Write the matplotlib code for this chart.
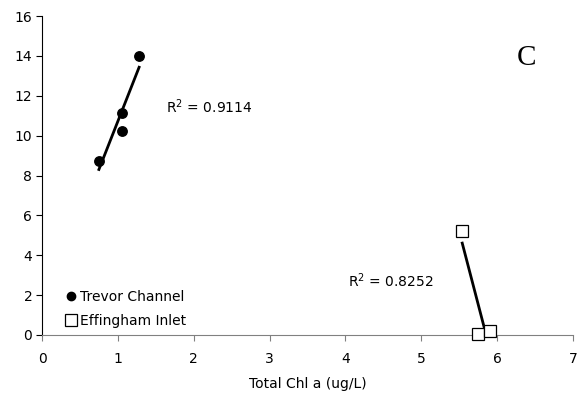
import numpy as np
import matplotlib
matplotlib.use("Agg")
import matplotlib.pyplot as plt
from matplotlib.lines import Line2D

# Data
trevor_x = [0.75, 1.05, 1.05, 1.28]
trevor_y = [8.74, 11.15, 10.25, 14.0]
effing_x = [5.54, 5.75, 5.90]
effing_y = [5.23, 0.05, 0.22]
trevor_r2 = "0.9114"
effing_r2 = "0.8252"
xticks = [0, 1, 2, 3, 4, 5, 6, 7]
yticks = [0, 2, 4, 6, 8, 10, 12, 14, 16]
xlabel = "Total Chl a (ug/L)"
panel = "C"

plt.rcParams['font.family'] = ['DejaVu Sans']
fig = plt.figure(figsize=(5.78, 4.0), dpi=100)
ax = fig.add_axes([0.0727, 0.1625, 0.9186, 0.7975])

# trendlines
for xs, ys in [(trevor_x, trevor_y), (effing_x, effing_y)]:
    m, b = np.polyfit(xs, ys, 1)
    xx = np.array([min(xs), max(xs)])
    ax.plot(xx, m * xx + b, color='black', lw=2.0, zorder=2)

ax.plot(trevor_x, trevor_y, linestyle='none', marker='o', ms=6.8,
        mfc='black', mec='black', zorder=3, clip_on=False)
ax.plot(effing_x, effing_y, linestyle='none', marker='s', ms=8.5,
        mfc='white', mec='black', mew=0.9, zorder=3, clip_on=False)

ax.set_xlim(0, 7)
ax.set_ylim(0, 16)
ax.set_xticks(xticks)
ax.set_yticks(yticks)
ax.tick_params(axis='both', direction='out', length=4, labelsize=10, color='black')
ax.tick_params(axis='x', pad=8, color='#808080')
ax.tick_params(axis='y', pad=3)
for s in ['top', 'right']:
    ax.spines[s].set_visible(False)
ax.spines['bottom'].set_color('#808080')
ax.spines['left'].set_color('black')
ax.set_xlabel(xlabel, fontsize=10, labelpad=8)

ax.text(166, 400 - 107, "R$^2$ = " + trevor_r2, transform=None, fontsize=10,
        va='center', ha='left')
ax.text(348, 400 - 281, "R$^2$ = " + effing_r2, transform=None, fontsize=10,
        va='center', ha='left')

ax.text(526, 400 - 58, panel, transform=None, fontsize=21,
        family='Liberation Serif', ha='center', va='center')

handles = [
    Line2D([], [], linestyle='none', marker='o', ms=6, mfc='black', mec='black'),
    Line2D([], [], linestyle='none', marker='s', ms=8, mfc='white', mec='black', mew=0.9),
]
leg = ax.legend(handles, ["Trevor Channel", "Effingham Inlet"], loc='lower left',
                bbox_to_anchor=(0.034, 0.0), frameon=False, fontsize=10,
                handlelength=0.6, handletextpad=0.3, labelspacing=0.7,
                borderaxespad=0.1)

fig.savefig("out.png", dpi=100)
